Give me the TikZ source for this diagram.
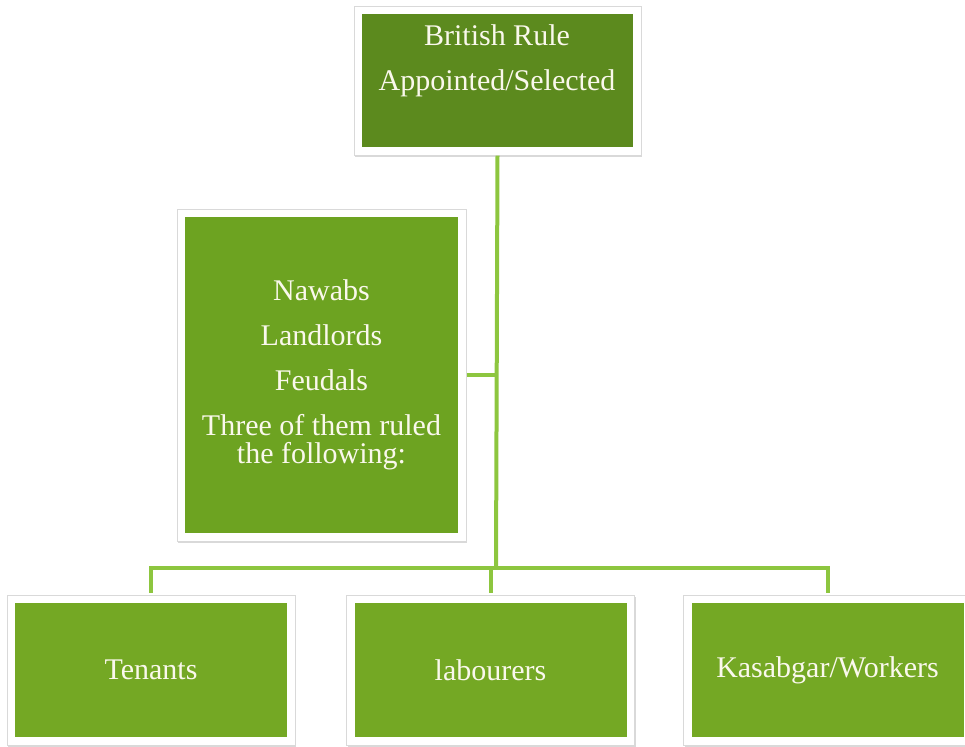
\documentclass[tikz,border=0pt]{standalone}
\usepackage{fontspec}
\setmainfont{Liberation Serif}
\usetikzlibrary{shadows}
\definecolor{RuleGreen}{HTML}{5C8A1E}
\definecolor{LordGreen}{HTML}{6DA321}
\definecolor{FolkGreen}{HTML}{74A824}
\definecolor{LinkGreen}{HTML}{8DC63F}
\definecolor{TextCream}{HTML}{FAF8EC}

\tikzset{
  gbox/.style={fill=white, draw=black!15, line width=0.5pt,
    drop shadow={shadow xshift=0.5pt, shadow yshift=-0.9pt, opacity=0.3},
    inner sep=0pt, minimum width=144pt, minimum height=75pt,
    path picture={\fill[#1] ([shift={(4pt,4pt)}]path picture bounding box.south west)
      rectangle ([shift={(-4pt,-4pt)}]path picture bounding box.north east);}},
  boxtext/.style={text=TextCream, align=center, font=\fontsize{15}{22.5}\selectfont},
  link/.style={draw=LinkGreen, line width=2pt}
}

\begin{document}
\begin{tikzpicture}[x=0.5pt,y=-0.5pt]
  \useasboundingbox (0,0) rectangle (965,746);
  % boxes
  \node[gbox=RuleGreen, minimum width=143.5pt, minimum height=74.5pt] (rule) at (497.5,80.5) {};
  \node[boxtext] (ruletext) at (497,60.5) {British Rule\\Appointed/Selected};
  \node[gbox=LordGreen, minimum width=144.5pt, minimum height=166pt, boxtext] (lords) at (321.5,375)
    {Nawabs\\Landlords\\Feudals\\Three of them ruled\\[-8.5pt]the following:};
  \node[gbox=FolkGreen, boxtext] (tenants) at (151,670) {Tenants};
  \node[gbox=FolkGreen, boxtext] (labourers) at (490.5,670) {labourers};
  \node[gbox=FolkGreen, boxtext] (workers) at (827.5,670) {Kasabgar/Workers};
  % connectors
  \coordinate (hub) at (496,568);
  \draw[link] (rule.south) -- (hub);
  \draw[link] (lords.east) -- (lords.east -| hub);
  \draw[link] ([yshift=1pt]tenants.north) |- (hub) -| ([yshift=1pt]workers.north);
  \draw[link] ([yshift=1pt]labourers.north) -- (labourers.north |- hub);
\end{tikzpicture}
\end{document}
